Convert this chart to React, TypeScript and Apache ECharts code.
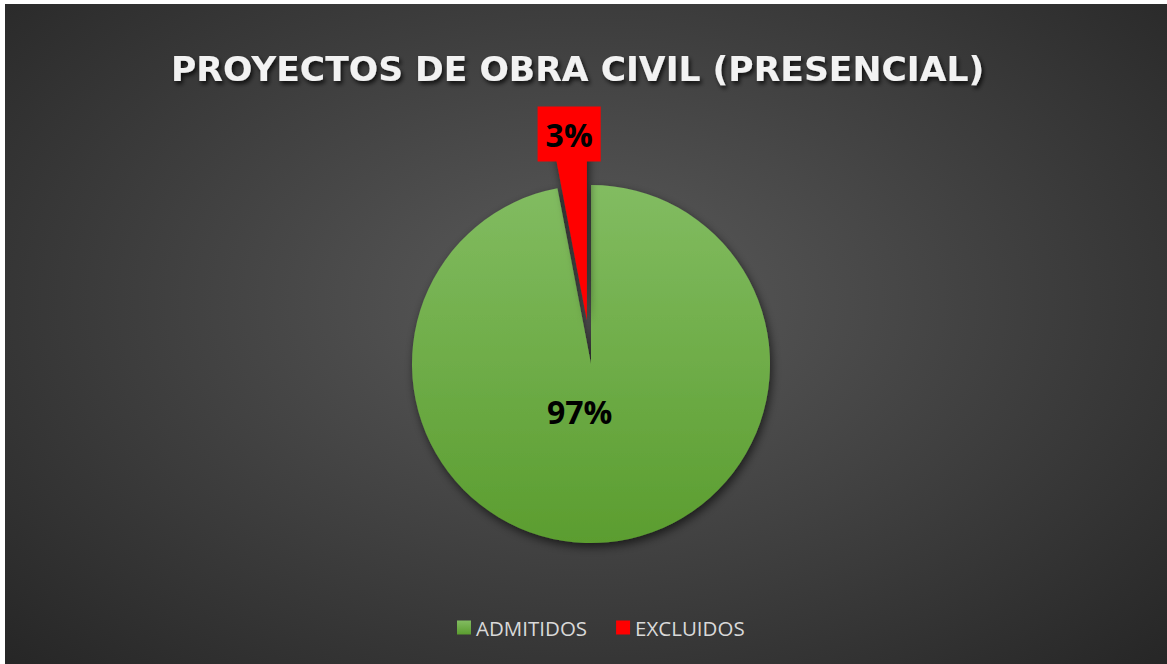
import { useEffect, useRef } from 'react';
import * as echarts from 'echarts';

const chartTitle = 'PROYECTOS DE OBRA CIVIL (PRESENCIAL)';
const categories = ['ADMITIDOS', 'EXCLUIDOS'];
const values = [97, 3];
const explodedIndex = 1;

export default function App() {
  const ref = useRef<HTMLDivElement>(null);
  useEffect(() => {
    const chart = echarts.init(ref.current!, null, { renderer: 'svg' });
    const green = new echarts.graphic.LinearGradient(0, 0, 0, 1, [
      { offset: 0, color: '#82bc61' },
      { offset: 1, color: '#5b9d2f' },
    ]);
    const shadow = { shadowBlur: 10, shadowColor: 'rgba(0,0,0,0.6)', shadowOffsetX: 2, shadowOffsetY: 4 };
    const labelFont = { fontFamily: 'Open Sans', fontWeight: 'bold' as const, fontSize: 32, color: '#000' };
    const data = categories.map((name, i) => ({
      name,
      value: values[i],
      selected: i === explodedIndex,
      itemStyle: { color: i === 0 ? green : '#ff0000', ...shadow },
      label:
        i === 0
          ? { ...labelFont }
          : { ...labelFont, backgroundColor: '#ff0000', padding: [10, 8, 8, 8], lineHeight: 37 },
    }));
    chart.setOption({
      animation: false,
      title: {
        text: chartTitle,
        left: 166,
        top: 47,
        padding: 0,
        textStyle: {
          fontFamily: 'DejaVu Sans',
          fontWeight: 'bold',
          fontSize: 34.6,
          color: '#f2f2f2',
          textShadowColor: 'rgba(0,0,0,0.75)',
          textShadowBlur: 4,
          textShadowOffsetX: 2,
          textShadowOffsetY: 3,
        },
      },
      legend: {
        data: categories,
        left: 447,
        top: 608,
        itemWidth: 14,
        itemHeight: 14,
        itemGap: 29,
        icon: 'rect',
        selectedMode: false,
        textStyle: { fontFamily: 'Open Sans', fontSize: 20.5, color: '#d9d9d9' },
      },
      series: [
        {
          type: 'pie',
          center: [586, 360],
          radius: 179,
          startAngle: 90,
          clockwise: true,
          selectedMode: 'single',
          selectedOffset: 44,
          label: {
            show: true,
            position: 'inside',
            formatter: (p: any) => Math.round(p.percent) + '%',
          },
          labelLine: { show: false },
          labelLayout: (p: any) => (p.dataIndex === 0 ? { dx: -20, dy: -45 } : { dx: -9, dy: -94 }),
          emphasis: { disabled: true },
          data,
        },
      ],
    });
    return () => chart.dispose();
  }, []);
  return (
    <div
      ref={ref}
      style={{
        position: 'absolute',
        left: 5,
        top: 4,
        width: 1162,
        height: 660,
        background: 'radial-gradient(ellipse farthest-corner at 50% 45%, #5b5b5b 0%, #262626 100%)',
      }}
    />
  );
}
